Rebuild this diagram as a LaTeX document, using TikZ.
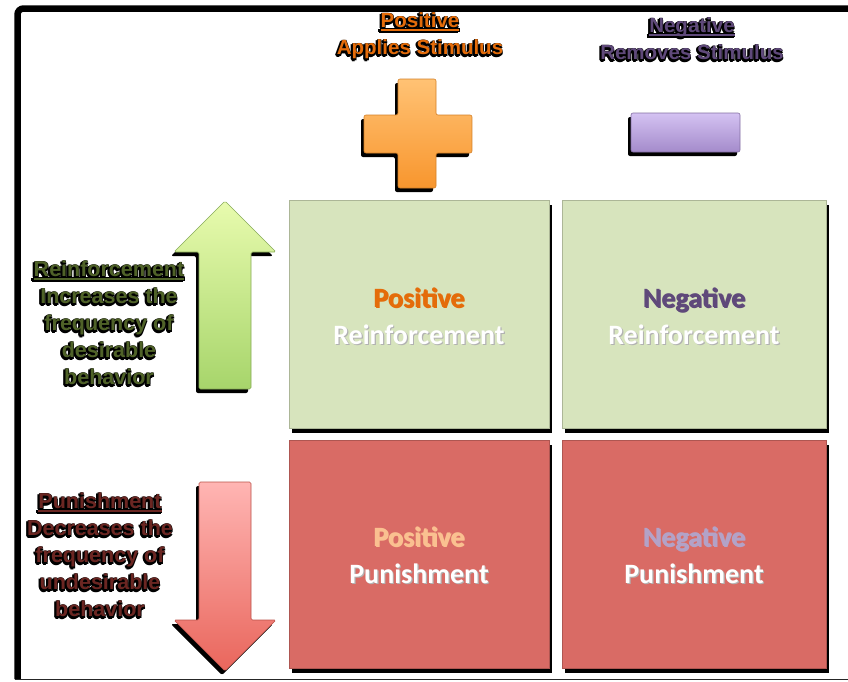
\documentclass[tikz,border=0pt]{standalone}
\usepackage{fontspec}
\setmainfont{Liberation Sans}
\newfontfamily\calib{Carlito}
\usetikzlibrary{shadows}
\definecolor{boxgreen}{HTML}{D7E4BD}
\definecolor{boxred}{HTML}{D96B65}
\definecolor{txtgreen}{HTML}{4F6228}
\definecolor{txtred}{HTML}{6B2622}
\definecolor{posorange}{HTML}{E46C0A}
\definecolor{negpurple}{HTML}{5F497A}
\definecolor{lightorange}{HTML}{FAC090}
\definecolor{lightpurple}{HTML}{B3A2C7}
\definecolor{plustop}{HTML}{FFC274}
\definecolor{plusbot}{HTML}{F8962E}
\definecolor{mintop}{HTML}{D4C2F2}
\definecolor{minbot}{HTML}{A48BCB}
\definecolor{uptop}{HTML}{E8FBAE}
\definecolor{upbot}{HTML}{A7D56B}
\definecolor{dntop}{HTML}{FFB5B3}
\definecolor{dnbot}{HTML}{E9665C}
\newcommand\myul[1]{\setbox0\hbox{#1}\rlap{\rule[-3pt]{\wd0}{2.2pt}}\box0}
% one shifted copy of a text, of zero width
\newcommand\hcopy[4]{\rlap{\color{#1}\kern#2\raisebox{#3}{#4}}}
% heavy black halo behind a line of text
\newcommand\halo[1]{\leavevmode
  \hcopy{black}{-1.8pt}{-1.8pt}{#1}\hcopy{black}{-1pt}{-2.5pt}{#1}%
  \hcopy{black}{-2.3pt}{-0.8pt}{#1}\hcopy{black}{0.7pt}{-1.3pt}{#1}%
  \hcopy{black}{-0.8pt}{0.6pt}{#1}\hcopy{black}{0.4pt}{0.3pt}{#1}#1}
% soft grey shadow behind a line of text
\newcommand\softs[1]{\leavevmode\hcopy{black!30}{1.2pt}{-1.8pt}{#1}#1}
\tikzset{
  sidelbl/.style={font=\bfseries\fontsize{21.5}{27}\selectfont, align=center, inner sep=0pt},
  toplbl/.style={font=\bfseries\fontsize{20.5}{27}\selectfont, align=center, inner sep=0pt},
  celllbl/.style={font=\calib\bfseries\fontsize{28}{37}\selectfont, align=center, inner sep=0pt, anchor=base},
  cell/.style={minimum height=228pt, inner sep=0pt, line width=0.8pt,
    drop shadow={shadow xshift=2.5pt, shadow yshift=-5pt, fill=black, opacity=1}},
  symshadow/.style={fill=black, rounded corners=2pt, shift={(-3,4)}},
}
\begin{document}
\begin{tikzpicture}[x=1pt, y=-1pt]
\useasboundingbox (0,0) rectangle (848,681);
% frame
\draw[line width=6.5pt, rounded corners=6pt] (17.5,679) -- (17.5,8.5) -- (852,8.5);
\draw[line width=1.2pt, black!85] (14.5,679.6) -- (848,679.6);

% top headings
\node[toplbl, text=posorange] (posh) at (420,37) {\halo{\myul{Positive}}\\\halo{Applies Stimulus}};
\node[toplbl, text=negpurple] (negh) at (692,40) {\halo{\myul{Negative}}\\\halo{Removes Stimulus}};

% plus sign
\path[symshadow] (398,79) -- (436,79) -- (436,115) -- (472,115) -- (472,153) -- (436,153) -- (436,188) -- (398,188) -- (398,153) -- (364,153) -- (364,115) -- (398,115) -- cycle;
\path[top color=plustop, bottom color=plusbot, draw=plusbot!85!black, line width=0.6pt, rounded corners=2pt] (398,79) -- (436,79) -- (436,115) -- (472,115) -- (472,153) -- (436,153) -- (436,188) -- (398,188) -- (398,153) -- (364,153) -- (364,115) -- (398,115) -- cycle;
% minus sign
\path[symshadow] (631,113) rectangle (740,152);
\path[top color=mintop, bottom color=minbot, draw=minbot!80!black, line width=0.6pt, rounded corners=2pt] (631,113) rectangle (740,152);

% arrows
\path[symshadow] (225,201) -- (276,252) -- (251,252) -- (251,389) -- (199,389) -- (199,252) -- (174,252) -- cycle;
\path[top color=uptop, bottom color=upbot, draw=upbot!80!black, line width=0.6pt, rounded corners=1.5pt] (225,201) -- (276,252) -- (251,252) -- (251,389) -- (199,389) -- (199,252) -- (174,252) -- cycle;
\path[symshadow] (199,482) -- (251,482) -- (251,620) -- (276,620) -- (225,671) -- (174,620) -- (199,620) -- cycle;
\path[top color=dntop, bottom color=dnbot, draw=dnbot!80!black, line width=0.6pt, rounded corners=1.5pt] (199,482) -- (251,482) -- (251,620) -- (276,620) -- (225,671) -- (174,620) -- (199,620) -- cycle;

% side labels
\node[sidelbl, text=txtgreen] (reinf) at (109,324) {\halo{\myul{Reinforcement}}\\\halo{Increases the}\\\halo{frequency of}\\\halo{desirable}\\\halo{behavior}};
\node[sidelbl, text=txtred] (punish) at (100,556) {\halo{\myul{Punishment}}\\\halo{Decreases the}\\\halo{frequency of}\\\halo{undesirable}\\\halo{behavior}};

% cells
\node[cell, minimum width=260pt, fill=boxgreen, draw=boxgreen!80!black] (pr) at (419,314) {};
\node[cell, minimum width=264pt, fill=boxgreen, draw=boxgreen!80!black] (nr) at (694,314) {};
\node[cell, minimum width=260pt, fill=boxred, draw=boxred!80!black] (pp) at (419,554) {};
\node[cell, minimum width=264pt, fill=boxred, draw=boxred!80!black] (np) at (694,554) {};

% cell labels
\node[celllbl, text=white] (prl) at (419,344) {\softs{\textcolor{posorange}{Positive}}\\\softs{Reinforcement}};
\node[celllbl, text=white] (nrl) at (694,344) {\softs{\textcolor{negpurple}{Negative}}\\\softs{Reinforcement}};
\node[celllbl, text=white] (ppl) at (419,583) {\softs{\textcolor{lightorange}{Positive}}\\\softs{Punishment}};
\node[celllbl, text=white] (npl) at (694,583) {\softs{\textcolor{lightpurple}{Negative}}\\\softs{Punishment}};
\end{tikzpicture}
\end{document}
